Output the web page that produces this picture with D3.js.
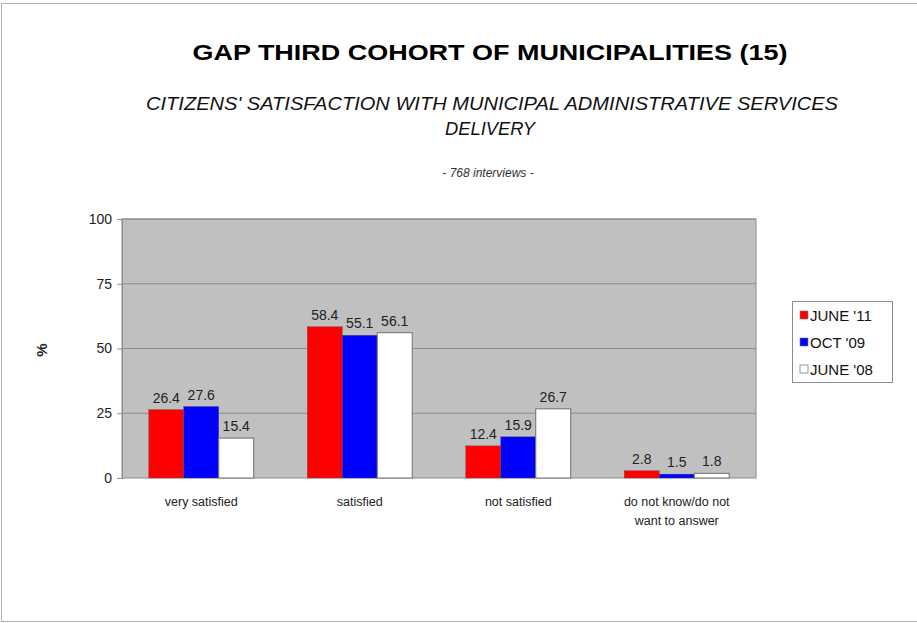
<!DOCTYPE html>
<html>
<head>
<meta charset="utf-8">
<script src="https://cdn.jsdelivr.net/npm/d3@7"></script>
<style>
  body { margin: 0; background: #fff; }
  text { font-family: "Liberation Sans", Arial, sans-serif; }
</style>
</head>
<body>
<div id="chart"></div>
<script>
// categories and series
const categories = ["very satisfied", "satisfied", "not satisfied", "do not know/do not\nwant to answer"];
const seriesNames = ["JUNE '11", "OCT '09", "JUNE '08"];
const june11 = [26.4, 58.4, 12.4, 2.8];
const oct09 = [27.6, 55.1, 15.9, 1.5];
const june08 = [15.4, 56.1, 26.7, 1.8];
const yTicks = [0, 25, 50, 75, 100];
const colors = ["#ff0000", "#0000ff", "#ffffff"];

const seriesValues = [june11, oct09, june08];

const W = 917, H = 623;
const margin = { top: 219, left: 122, right: W - 756, bottom: H - 478 };
const width = W - margin.left - margin.right;
const height = H - margin.top - margin.bottom;

const svg = d3.select("#chart").append("svg")
  .attr("width", W)
  .attr("height", H);

// outer frame
svg.append("rect")
  .attr("x", 1.5).attr("y", 3.5)
  .attr("width", W + 5).attr("height", 618)
  .attr("fill", "none").attr("stroke", "#b0b0b0").attr("stroke-width", 1);

// titles
svg.append("text")
  .attr("x", 490).attr("y", 60)
  .attr("text-anchor", "middle")
  .attr("font-size", 22).attr("font-weight", "bold")
  .attr("textLength", 595).attr("lengthAdjust", "spacingAndGlyphs")
  .text("GAP  THIRD  COHORT  OF  MUNICIPALITIES  (15)");

svg.append("text")
  .attr("x", 492).attr("y", 110)
  .attr("text-anchor", "middle")
  .attr("font-size", 18).attr("font-style", "italic")
  .attr("fill", "#111")
  .attr("textLength", 692).attr("lengthAdjust", "spacingAndGlyphs")
  .text("CITIZENS' SATISFACTION WITH MUNICIPAL ADMINISTRATIVE SERVICES");

svg.append("text")
  .attr("x", 490).attr("y", 135)
  .attr("text-anchor", "middle")
  .attr("font-size", 18).attr("font-style", "italic")
  .attr("fill", "#111")
  .attr("textLength", 90).attr("lengthAdjust", "spacingAndGlyphs")
  .text("DELIVERY");

svg.append("text")
  .attr("x", 488).attr("y", 177)
  .attr("text-anchor", "middle")
  .attr("font-size", 12).attr("font-style", "italic")
  .attr("fill", "#333")
  .text("- 768 interviews -");

const g = svg.append("g")
  .attr("transform", `translate(${margin.left},${margin.top})`);

// scales
const x0 = d3.scaleBand()
  .domain(d3.range(categories.length))
  .range([0, width])
  .paddingInner(0)
  .paddingOuter(0);

const groupW = x0.bandwidth() * 0.662;
const x1 = d3.scaleBand()
  .domain(d3.range(seriesNames.length))
  .range([0, groupW]);

const y = d3.scaleLinear()
  .domain([0, 100])
  .range([height, 0]);

// plot background
g.append("rect")
  .attr("width", width).attr("height", height)
  .attr("fill", "#c0c0c0");

// gridlines
g.append("g")
  .selectAll("line")
  .data(yTicks.filter(d => d > 0))
  .join("line")
  .attr("x1", 0).attr("x2", width)
  .attr("y1", d => y(d)).attr("y2", d => y(d))
  .attr("stroke", "#8c8c8c").attr("stroke-width", 1);

g.append("rect")
  .attr("width", width).attr("height", height)
  .attr("fill", "none").attr("stroke", "#8c8c8c").attr("stroke-width", 1);

// y axis
const yAxis = g.append("g")
  .call(d3.axisLeft(y).tickValues(yTicks).tickSize(5).tickPadding(5));
yAxis.select(".domain").attr("stroke", "#8c8c8c");
yAxis.selectAll(".tick line").attr("stroke", "#8c8c8c");
yAxis.selectAll("text")
  .attr("font-size", 14).attr("fill", "#222")
  .attr("font-family", "Liberation Sans, Arial, sans-serif");

svg.append("text")
  .attr("transform", "translate(47,350) rotate(-90)")
  .attr("text-anchor", "middle")
  .attr("font-size", 15).attr("font-weight", "bold")
  .attr("fill", "#222")
  .text("%");

// bars
const groups = g.selectAll(".grp")
  .data(categories)
  .join("g")
  .attr("class", "grp")
  .attr("transform", (d, i) => `translate(${x0(i) + (x0.bandwidth() - groupW) / 2},0)`);

groups.selectAll("rect")
  .data((d, i) => seriesValues.map((s, k) => ({ k, v: s[i] })))
  .join("rect")
  .attr("x", d => x1(d.k))
  .attr("y", d => y(d.v))
  .attr("width", x1.bandwidth())
  .attr("height", d => y(0) - y(d.v))
  .attr("fill", d => colors[d.k])
  .attr("stroke", d => d.k === 2 ? "#707070" : "#555")
  .attr("stroke-width", d => d.k === 2 ? 1 : 0.4);

groups.selectAll(".val")
  .data((d, i) => seriesValues.map((s, k) => ({ k, v: s[i] })))
  .join("text")
  .attr("class", "val")
  .attr("x", d => x1(d.k) + x1.bandwidth() / 2)
  .attr("y", d => y(d.v) - 7)
  .attr("text-anchor", "middle")
  .attr("font-size", 14).attr("fill", "#222")
  .text(d => d.v.toFixed(1));

// category labels
const catLabels = g.append("g")
  .selectAll("text")
  .data(categories)
  .join("text")
  .attr("x", (d, i) => x0(i) + x0.bandwidth() / 2)
  .attr("y", height + 28)
  .attr("text-anchor", "middle")
  .attr("font-size", 12.5).attr("fill", "#222");

catLabels.each(function(d) {
  d.split("\n").forEach((line, j) => {
    d3.select(this).append("tspan")
      .attr("x", d3.select(this).attr("x"))
      .attr("dy", j === 0 ? 0 : 19)
      .text(line);
  });
});

// legend
const legend = svg.append("g").attr("transform", "translate(792,301)");
legend.append("rect")
  .attr("x", 0.5).attr("y", 0.5)
  .attr("width", 100).attr("height", 81)
  .attr("fill", "#fff").attr("stroke", "#8c8c8c");

const items = legend.selectAll(".item")
  .data(seriesNames)
  .join("g")
  .attr("class", "item")
  .attr("transform", (d, i) => `translate(0,${14 + i * 27})`);

items.append("rect")
  .attr("x", 8).attr("y", -4)
  .attr("width", 8).attr("height", 8)
  .attr("fill", (d, i) => colors[i])
  .attr("stroke", (d, i) => i === 2 ? "#555" : "#777")
  .attr("stroke-width", 0.6);

items.append("text")
  .attr("x", 18).attr("y", 6)
  .attr("font-size", 15).attr("fill", "#111")
  .text(d => d);
</script>
</body>
</html>
